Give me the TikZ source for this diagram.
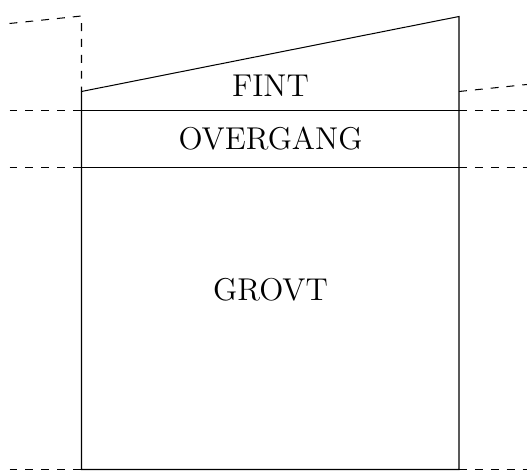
\documentclass[tikz,border=0pt]{standalone}
\begin{document}
\begin{tikzpicture}[x=0.39pt,y=-0.39pt,
  wall/.style={line width=0.4pt},
  ext/.style={line width=0.4pt,dash pattern=on 3.1pt off 3.1pt},
  lbl/.style={font=\fontsize{12.3}{15}\selectfont,inner sep=0pt}]
\useasboundingbox (0,0) rectangle (527,471);
% coordinates
\coordinate (TL) at (81.5,91.5);
\coordinate (TR) at (459,16.5);
\coordinate (BL) at (81.5,469.5);
\coordinate (BR) at (459,469.5);
\coordinate (L1) at (81.5,110.8);
\coordinate (R1) at (459,110.8);
\coordinate (L2) at (81.5,167.6);
\coordinate (R2) at (459,167.6);
\coordinate (Lup) at (81.5,16);
\coordinate (Lfar) at (9.5,23.5);
\coordinate (Rmid) at (459,91.5);
\coordinate (Rfar) at (527,84.5);
% solid outline
\draw[wall] (BL) -- (TL) -- (TR) -- (BR) -- cycle;
\draw[wall] (L1) -- (R1);
\draw[wall] (L2) -- (R2);
% dashed extensions
\draw[ext] (Lfar) -- (Lup) -- (TL);
\draw[ext] (Rmid) -- (Rfar);
\draw[ext] (9.5,110.8) -- (L1);
\draw[ext] (R1) -- (527,110.8);
\draw[ext] (9.5,167.6) -- (L2);
\draw[ext] (R2) -- (527,167.6);
\draw[ext] (9.5,469.5) -- (BL);
\draw[ext] (BR) -- (527,469.5);
% labels
\node[lbl] (fint) at (270.5,85.5) {FINT};
\node[lbl] (overgang) at (270.5,138.5) {OVERGANG};
\node[lbl] (grovt) at (270.5,289.5) {GROVT};
\end{tikzpicture}
\end{document}
